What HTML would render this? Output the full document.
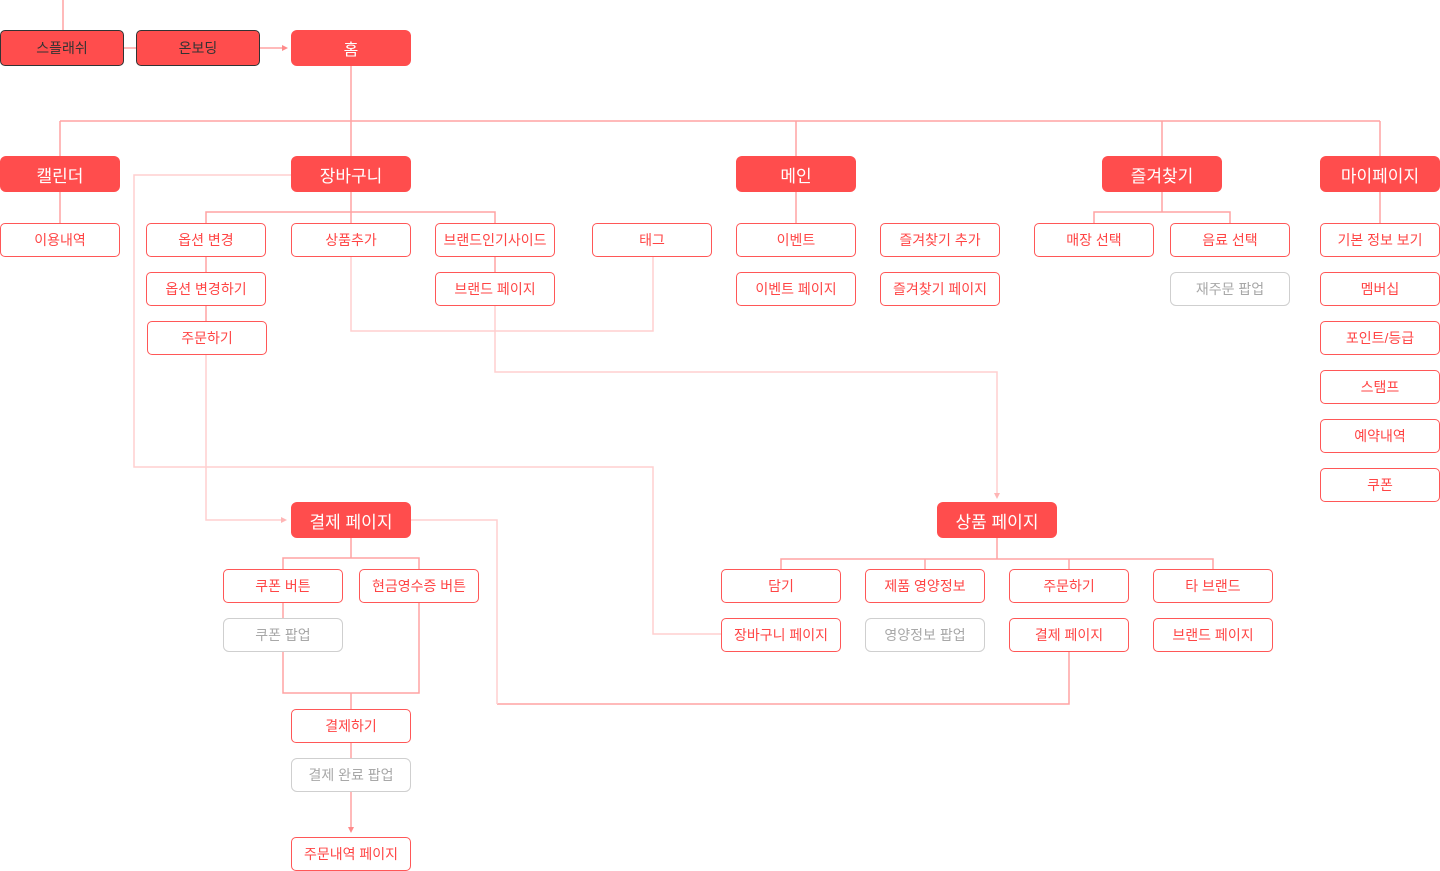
<!DOCTYPE html>
<html>
<head>
<meta charset="utf-8">
<style>
  html,body{margin:0;padding:0;background:#fff;}
  body{width:1440px;height:871px;position:relative;overflow:hidden;
    font-family:"Liberation Sans","Noto Sans CJK KR",sans-serif;}
  .b{position:absolute;box-sizing:border-box;display:flex;align-items:center;justify-content:center;white-space:nowrap;}
  .f{background:#FF4D4D;color:#fff;border-radius:6px;font-size:17px;height:36px;width:120px;}
  .o{background:#fff;border:1px solid #FF5757;color:#FF4545;border-radius:5px;font-size:14px;height:34px;width:120px;}
  .g{background:#fff;border:1.5px solid #CFCFCF;color:#A8A8A8;border-radius:6px;font-size:14px;height:34px;width:120px;}
  .d{background:#FF4D4D;border:1px solid #333;color:#333;border-radius:5px;font-size:14px;height:36px;width:124px;}
  svg{position:absolute;left:0;top:0;}
</style>
</head>
<body>
<svg width="1440" height="871" viewBox="0 0 1440 871" fill="none">
  <g stroke="#FFA3A3" stroke-width="1.5">
    <path d="M63 0V30"/>
    <path d="M123 48H136"/>
    <path d="M259 48H284"/>
    <path d="M351 65V156"/>
    <path d="M60 121H1380"/>
    <path d="M60 121V156M796 121V156M1162 121V156M1380 121V156"/>
    <path d="M60 192V223"/>
    <path d="M351 192V223M206 223V212H495V223"/>
    <path d="M206 256V272M206 305V321"/>
    <path d="M495 256V272"/>
    <path d="M796 192V223"/>
    <path d="M1162 192V212M1094 223V212H1230V223"/>
    <path d="M1380 192V223"/>
    <path d="M351 538V558M283 569V558H419V569"/>
    <path d="M283 602V618"/>
    <path d="M283 651V693H419V602"/>
    <path d="M351 693V709"/>
    <path d="M351 742V758"/>
    <path d="M351 791V828"/>
    <path d="M997 538V559M781 569V559H1213V569M925 559V569M1069 559V569"/>
    <path d="M1069 651V704H497"/>
  </g>
  <g stroke="#FFCFCF" stroke-width="1.5">
    <path d="M291 175H134V467H653V634H721"/>
    <path d="M351 256V331H653V256"/>
    <path d="M495 305V372H997V494"/>
    <path d="M206 354V520H282"/>
    <path d="M410 520H497V704"/>
  </g>
  <g fill="#FF8A8A">
    <path d="M288 48L282 45V51Z"/>
    <path d="M351 833L348 827H354Z"/>
  </g>
  <g fill="#FFB5B5">
    <path d="M997 499L994 493H1000Z"/>
    <path d="M287 520L281 517V523Z"/>
  </g>
</svg>

<!-- top row -->
<div class="b d" style="left:0px;top:30px;">스플래쉬</div>
<div class="b d" style="left:136px;top:30px;">온보딩</div>
<div class="b f" style="left:291px;top:30px;height:36px;font-size:16px;">홈</div>

<!-- level 2 -->
<div class="b f" style="left:0px;top:156px;">캘린더</div>
<div class="b f" style="left:291px;top:156px;">장바구니</div>
<div class="b f" style="left:736px;top:156px;">메인</div>
<div class="b f" style="left:1102px;top:156px;">즐겨찾기</div>
<div class="b f" style="left:1320px;top:156px;">마이페이지</div>

<!-- row 3 -->
<div class="b o" style="left:0px;top:223px;">이용내역</div>
<div class="b o" style="left:146px;top:223px;">옵션 변경</div>
<div class="b o" style="left:291px;top:223px;">상품추가</div>
<div class="b o" style="left:435px;top:223px;">브랜드인기사이드</div>
<div class="b o" style="left:592px;top:223px;">태그</div>
<div class="b o" style="left:736px;top:223px;">이벤트</div>
<div class="b o" style="left:880px;top:223px;">즐겨찾기 추가</div>
<div class="b o" style="left:1034px;top:223px;">매장 선택</div>
<div class="b o" style="left:1170px;top:223px;">음료 선택</div>
<div class="b o" style="left:1320px;top:223px;">기본 정보 보기</div>

<!-- row 4 -->
<div class="b o" style="left:146px;top:272px;">옵션 변경하기</div>
<div class="b o" style="left:435px;top:272px;">브랜드 페이지</div>
<div class="b o" style="left:736px;top:272px;">이벤트 페이지</div>
<div class="b o" style="left:880px;top:272px;">즐겨찾기 페이지</div>
<div class="b g" style="left:1170px;top:272px;">재주문 팝업</div>
<div class="b o" style="left:1320px;top:272px;">멤버십</div>

<!-- row 5+ -->
<div class="b o" style="left:147px;top:321px;">주문하기</div>
<div class="b o" style="left:1320px;top:321px;">포인트/등급</div>
<div class="b o" style="left:1320px;top:370px;">스탬프</div>
<div class="b o" style="left:1320px;top:419px;">예약내역</div>
<div class="b o" style="left:1320px;top:468px;">쿠폰</div>

<!-- payment -->
<div class="b f" style="left:291px;top:502px;">결제 페이지</div>
<div class="b o" style="left:223px;top:569px;">쿠폰 버튼</div>
<div class="b o" style="left:359px;top:569px;">현금영수증 버튼</div>
<div class="b g" style="left:223px;top:618px;">쿠폰 팝업</div>
<div class="b o" style="left:291px;top:709px;">결제하기</div>
<div class="b g" style="left:291px;top:758px;">결제 완료 팝업</div>
<div class="b o" style="left:291px;top:837px;">주문내역 페이지</div>

<!-- product -->
<div class="b f" style="left:937px;top:502px;">상품 페이지</div>
<div class="b o" style="left:721px;top:569px;">담기</div>
<div class="b o" style="left:865px;top:569px;">제품 영양정보</div>
<div class="b o" style="left:1009px;top:569px;">주문하기</div>
<div class="b o" style="left:1153px;top:569px;">타 브랜드</div>
<div class="b o" style="left:721px;top:618px;">장바구니 페이지</div>
<div class="b g" style="left:865px;top:618px;">영양정보 팝업</div>
<div class="b o" style="left:1009px;top:618px;">결제 페이지</div>
<div class="b o" style="left:1153px;top:618px;">브랜드 페이지</div>
</body>
</html>
